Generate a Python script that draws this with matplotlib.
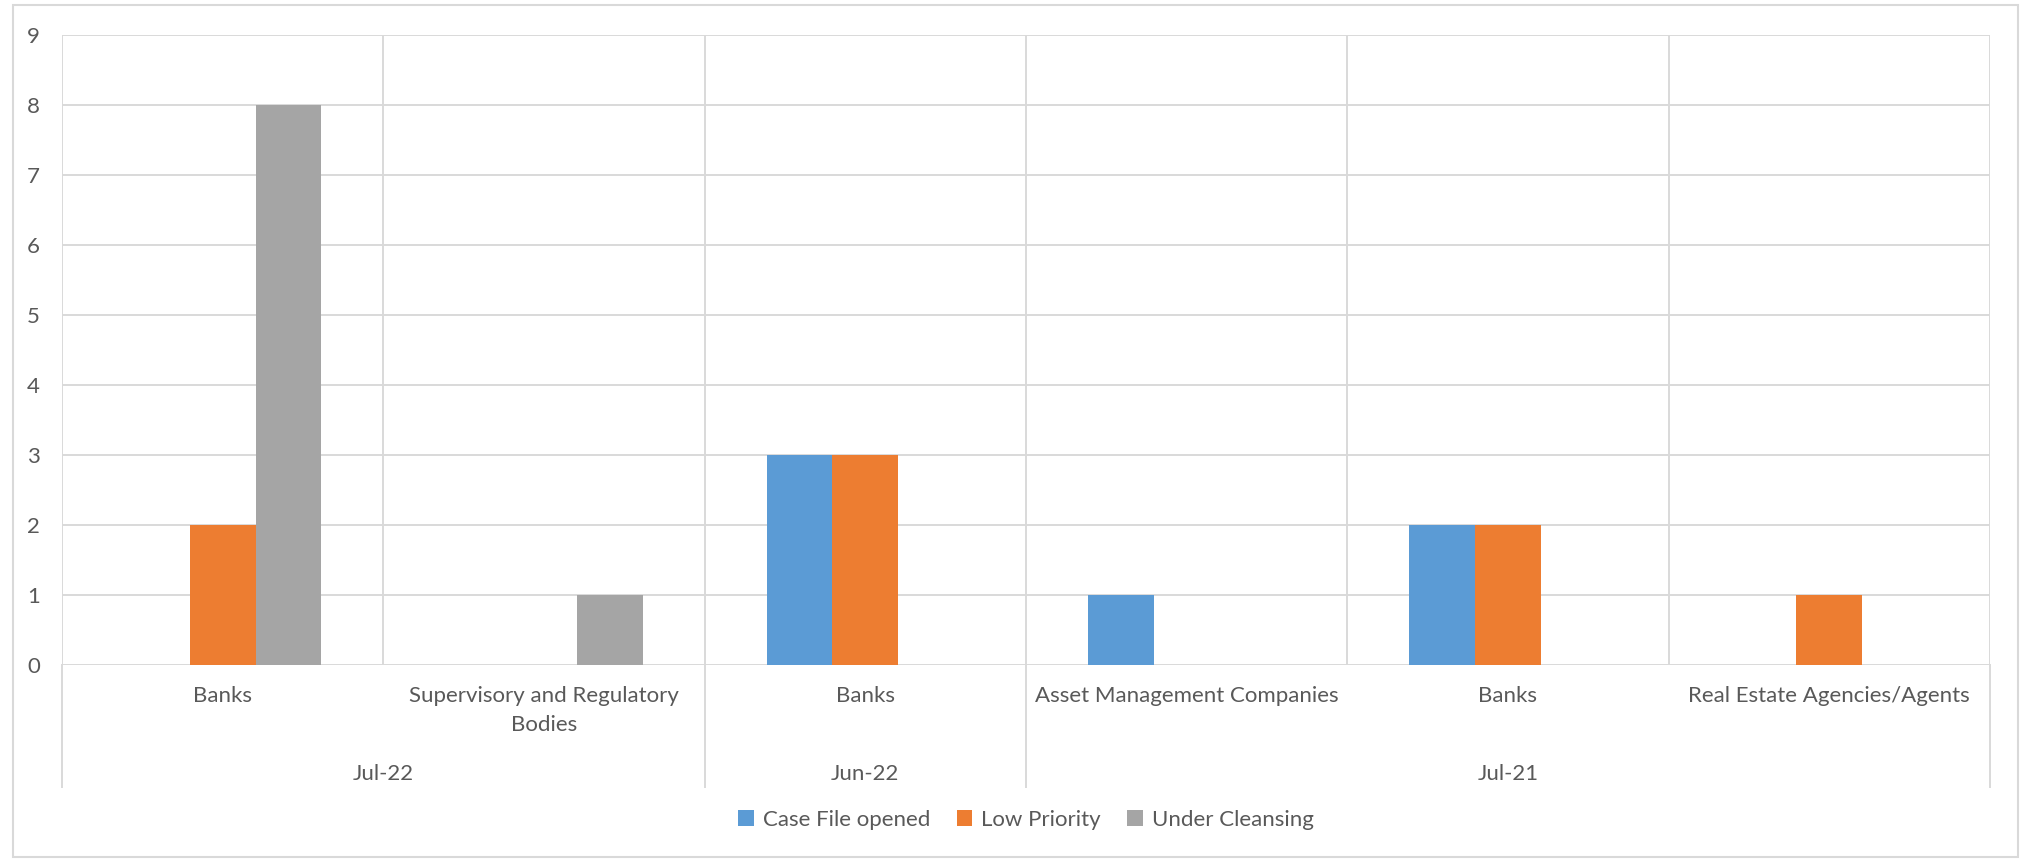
import matplotlib
matplotlib.use("Agg")
import matplotlib.pyplot as plt
import matplotlib.transforms as mtransforms
from matplotlib.patches import Rectangle, Patch

plt.rcParams['font.family'] = ['Lato', 'DejaVu Sans']

# Data
categories = ["Banks", "Supervisory and Regulatory\nBodies", "Banks",
              "Asset Management Companies", "Banks", "Real Estate Agencies/Agents"]
groups = ["Jul-22", "Jun-22", "Jul-21"]
group_sizes = [2, 1, 3]
series_names = ["Case File opened", "Low Priority", "Under Cleansing"]
case_file_opened = [0, 0, 3, 1, 2, 0]
low_priority = [2, 0, 3, 0, 2, 1]
under_cleansing = [8, 1, 0, 0, 0, 0]
y_ticks = list(range(0, 10))

colors = ["#5B9BD5", "#ED7D31", "#A5A5A5"]
grid_c = "#D9D9D9"
text_c = "#595959"
fs = 16

W, H = 2022, 860
fig = plt.figure(figsize=(W / 100, H / 100), dpi=100)

# Chart area border
fig.patches.append(Rectangle((13 / W, 1 - 857 / H), (2018 - 13) / W, (857 - 5) / H,
                             transform=fig.transFigure, fill=False,
                             edgecolor=grid_c, linewidth=1.5))

left, right, top, bottom = 62, 1990, 35, 665
ax = fig.add_axes([left / W, 1 - bottom / H, (right - left) / W, (bottom - top) / H])

n = len(categories)
bar_w = 0.205
for j, (name, vals) in enumerate(zip(series_names, [case_file_opened, low_priority, under_cleansing])):
    xs = [i + 0.5 + (j - 1) * bar_w for i in range(n)]
    ax.bar(xs, vals, width=bar_w, color=colors[j], label=name, linewidth=0, zorder=3)

ax.set_xlim(0, n)
ax.set_ylim(0, 9)
ax.set_yticks(y_ticks)
ax.set_xticks([i + 0.5 for i in range(n)])
ax.set_xticklabels(categories, multialignment='center', linespacing=1.55)
ax.set_xticks(range(n + 1), minor=True)

ax.tick_params(axis='both', which='both', length=0, labelsize=fs, labelcolor=text_c)
ax.tick_params(axis='x', which='major', pad=15)
ax.tick_params(axis='y', pad=16)
for lab in ax.get_xticklabels():
    lab.set_verticalalignment('top')

ax.grid(axis='y', which='major', color=grid_c, linewidth=1.4, zorder=0)
ax.grid(axis='x', which='minor', color=grid_c, linewidth=1.4, zorder=0)
ax.grid(axis='x', which='major', visible=False)
for s in ax.spines.values():
    s.set_visible(False)

# Group level of the category axis
trans = mtransforms.blended_transform_factory(ax.transData, ax.transAxes)
sep_bottom = -(787 - bottom) / (bottom - top)
label_y = -(774 - bottom) / (bottom - top)
start = 0
bounds = [0]
for g, size in zip(groups, group_sizes):
    ax.text(start + size / 2, label_y, g, transform=trans, ha='center', va='center',
            fontsize=fs, color=text_c)
    start += size
    bounds.append(start)
for b in bounds:
    ax.plot([b, b], [0, sep_bottom], transform=trans, color=grid_c,
            linewidth=1.4, clip_on=False)

handles = [Patch(facecolor=c, edgecolor='none') for c in colors]
fig.legend(handles, series_names, loc='center',
           bbox_to_anchor=((left + right) / 2 / W, 1 - 820 / H),
           ncol=3, frameon=False, fontsize=fs, labelcolor=text_c,
           handlelength=0.7, handleheight=0.7, handletextpad=0.4, columnspacing=1.2)

fig.savefig("out.png", dpi=100, facecolor='white')
